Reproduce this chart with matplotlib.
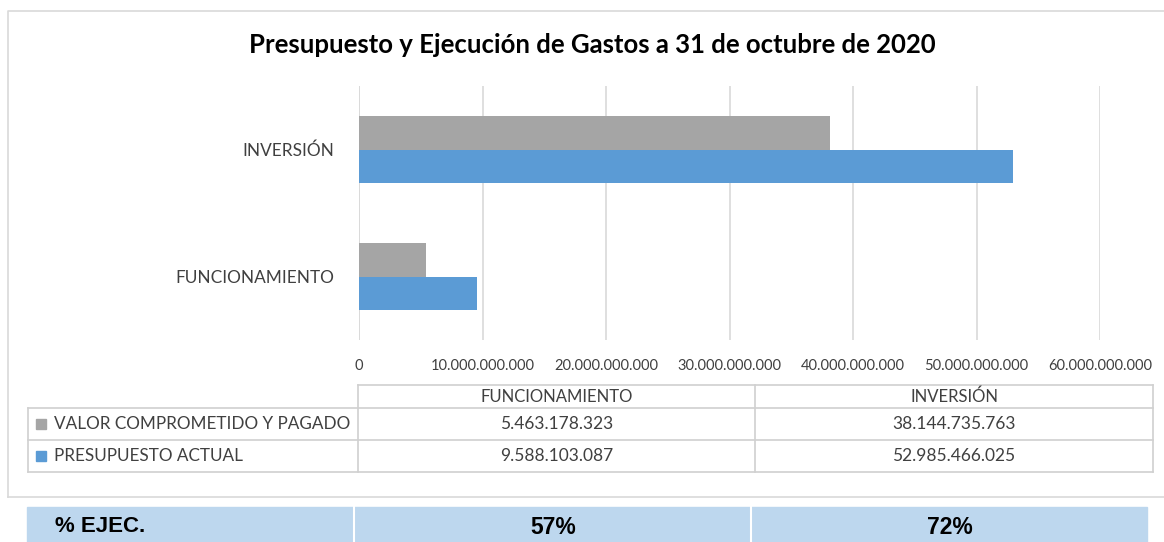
import matplotlib.pyplot as plt
import numpy as np
from matplotlib.patches import Rectangle

categorias = ['FUNCIONAMIENTO', 'INVERSIÓN']
comprometido = [5463178323, 38144735763]
presupuesto = [9588103087, 52985466025]
series = ['VALOR COMPROMETIDO Y PAGADO', 'PRESUPUESTO ACTUAL']
ejecucion = ['57%', '72%']
ticks = [0, 10e9, 20e9, 30e9, 40e9, 50e9, 60e9]

gris = '#A5A5A5'
azul = '#5B9BD5'
fuente = 'Lato'

def miles(v):
    return f'{int(round(v)):,}'.replace(',', '.')

W, H = 1164, 542
fig = plt.figure(figsize=(W / 100, H / 100), dpi=100)

# capa de fondo en pixeles
bg = fig.add_axes([0, 0, 1, 1])
bg.set_xlim(0, W)
bg.set_ylim(H, 0)
bg.axis('off')

# marco exterior del grafico
bg.plot([8, 8, W], [497, 11, 11], color='#D9D9D9', lw=1.2)
bg.plot([8, W], [497, 497], color='#D9D9D9', lw=1.2)

bg.text(592, 45, 'Presupuesto y Ejecución de Gastos a 31 de octubre de 2020',
        ha='center', va='center', fontsize=18.5, fontweight='bold', family=fuente)

# grafico de barras
x0, x1, y0, y1 = 359, 1100, 86, 340
ax = fig.add_axes([x0 / W, 1 - y1 / H, (x1 - x0) / W, (y1 - y0) / H])
pos = np.arange(len(categorias))
h = 0.265
ax.barh(pos + h / 2, comprometido, height=h, color=gris, zorder=3)
ax.barh(pos - h / 2, presupuesto, height=h, color=azul, zorder=3)
ax.set_xlim(0, 60e9)
ax.set_ylim(-0.5, 1.5)
ax.set_xticks(ticks)
ax.set_xticklabels([miles(t) for t in ticks], fontsize=10.5, family=fuente, color='#404040')
ax.set_yticks(pos)
ax.set_yticklabels(categorias, fontsize=12.4, family=fuente, color='#404040')
ax.tick_params(length=0, pad=18)
ax.tick_params(axis='x', pad=14)
ax.grid(axis='x', color='#D9D9D9', lw=1.2, zorder=0)
for s in ax.spines.values():
    s.set_visible(False)
ax.axvline(0, color='#D9D9D9', lw=1.2, zorder=1)

# tabla de datos
lc = '#D0D0D0'
cols = [28, 358, 755, 1153]
rows = [385, 408, 440, 472]
bg.plot([cols[1], cols[3]], [rows[0], rows[0]], color=lc, lw=1.2)
for yy in rows[1:]:
    bg.plot([cols[0], cols[3]], [yy, yy], color=lc, lw=1.2)
bg.plot([cols[0], cols[0]], [rows[1], rows[3]], color=lc, lw=1.2)
for xx in cols[1:]:
    bg.plot([xx, xx], [rows[0], rows[3]], color=lc, lw=1.2)

for j, cat in enumerate(categorias):
    cx = (cols[j + 1] + cols[j + 2]) / 2
    bg.text(cx, (rows[0] + rows[1]) / 2, cat, ha='center', va='center',
            fontsize=12, family=fuente, color='#404040')
    for i, vals in enumerate([comprometido, presupuesto]):
        bg.text(cx, (rows[i + 1] + rows[i + 2]) / 2, miles(vals[j]), ha='center',
                va='center', fontsize=12.5, family=fuente, color='#404040')

for i, (nombre, c) in enumerate(zip(series, [gris, azul])):
    cy = (rows[i + 1] + rows[i + 2]) / 2
    bg.add_patch(Rectangle((36, cy - 5), 10, 10, color=c))
    bg.text(54, cy, nombre, ha='left', va='center', fontsize=12.3,
            family=fuente, color='#404040')

# franja de ejecucion
franja = '#BDD7EE'
bg.add_patch(Rectangle((27, 507), 1147 - 27, 40, color=franja))
for xx in [354, 751]:
    bg.plot([xx, xx], [507, 542], color='white', lw=1.5)
bg.text(55, 527, '% EJEC.', ha='left', va='center', fontsize=16,
        fontweight='bold', family='Liberation Sans')
for j, p in enumerate(ejecucion):
    cx = [553, 950][j]
    bg.text(cx, 527, p, ha='center', va='center', fontsize=16.5,
            fontweight='bold', family='Liberation Sans')

fig.savefig('out.png', dpi=100)
